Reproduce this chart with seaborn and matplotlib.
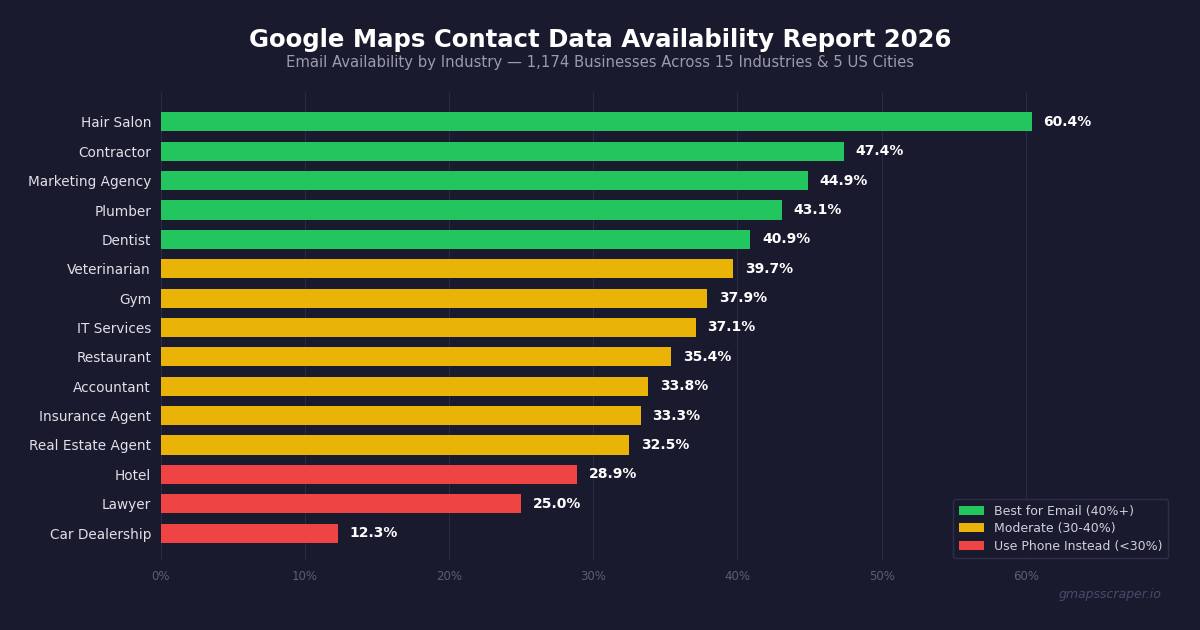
import pandas as pd
import matplotlib
matplotlib.use('Agg')
import matplotlib.pyplot as plt
import seaborn as sns

# ------------------------------------------------------- #
#                           DATOS                         #
# ------------------------------------------------------- #
industrias = ['Hair Salon', 'Contractor', 'Marketing Agency', 'Plumber', 'Dentist',
              'Veterinarian', 'Gym', 'IT Services', 'Restaurant', 'Accountant',
              'Insurance Agent', 'Real Estate Agent', 'Hotel', 'Lawyer', 'Car Dealership']
email_pct = [60.4, 47.4, 44.9, 43.1, 40.9, 39.7, 37.9, 37.1, 35.4, 33.8,
             33.3, 32.5, 28.9, 25.0, 12.3]
niveles = ['Best for Email (40%+)', 'Moderate (30-40%)', 'Use Phone Instead (<30%)']
colores = ['#22c55e', '#eab308', '#ef4444']


def nivel(v):
    if v >= 40:
        return niveles[0]
    if v >= 30:
        return niveles[1]
    return niveles[2]


df = pd.DataFrame({'industria': industrias, 'pct': email_pct})
df['nivel'] = df['pct'].apply(nivel)

# ------------------------------------------------------- #
#                          GRAFICO                        #
# ------------------------------------------------------- #
bg = '#1a1a2e'
sns.set_style('dark')
plt.rcParams['font.family'] = ['DejaVu Sans']

fig = plt.figure(figsize=(12, 6.3), dpi=100, facecolor=bg)
ax = fig.add_axes([0.134, 0.111, 0.841, 0.743])
ax.set_facecolor(bg)

sns.barplot(data=df, y='industria', x='pct', hue='nivel', hue_order=niveles,
            palette=colores, dodge=False, width=0.65, ax=ax, saturation=1,
            linewidth=0)

for i, v in enumerate(email_pct):
    ax.text(v + 0.8, i, f'{v:.1f}%', va='center', ha='left', color='white',
            fontsize=10, fontweight='bold')

ax.set_xlim(0, 70)
ax.set_ylim(14.92, -1.02)
ax.set_xticks(range(0, 70, 10))
ax.set_xticklabels([f'{t}%' for t in range(0, 70, 10)])
ax.tick_params(axis='x', colors='#5c5c7a', labelsize=8.5, length=4, color='#3a3a55')
ax.tick_params(axis='y', colors='#e0e0e8', labelsize=9.8, length=0, pad=7)
ax.xaxis.grid(True, color='#2a2a44', linewidth=0.8)
ax.yaxis.grid(False)
ax.set_axisbelow(True)
for s in ax.spines.values():
    s.set_visible(False)
ax.set_xlabel('')
ax.set_ylabel('')

leg = ax.legend(loc='lower right', fontsize=9, facecolor=bg, edgecolor='#2e2e48',
                labelcolor='#d0d0dc', framealpha=1, borderpad=0.45,
                labelspacing=0.35, borderaxespad=0.15)

fig.text(0.5, 0.937, 'Google Maps Contact Data Availability Report 2026', ha='center',
         va='center', color='white', fontsize=17.6, fontweight='bold')
fig.text(0.5, 0.9, 'Email Availability by Industry \u2014 1,174 Businesses Across 15 Industries & 5 US Cities',
         ha='center', va='center', color='#9a9ab0', fontsize=10.7)
fig.text(0.968, 0.057, 'gmapsscraper.io', ha='right', va='center', color='#4a4a6a',
         fontsize=9, style='italic')

plt.savefig('out.png', facecolor=bg)
